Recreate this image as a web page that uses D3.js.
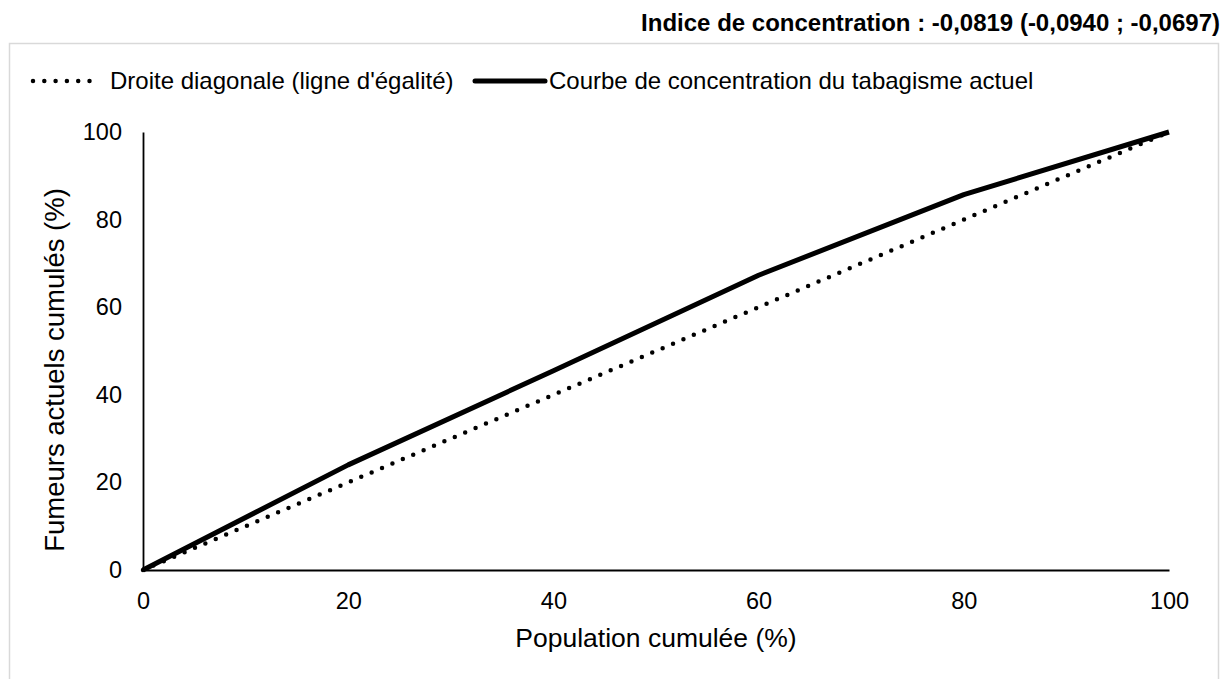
<!DOCTYPE html>
<html>
<head>
<meta charset="utf-8">
<script src="https://cdn.jsdelivr.net/npm/d3@7"></script>
<style>
  body { margin: 0; background: #fff; }
  text { font-family: "Liberation Sans", Arial, Helvetica, sans-serif; fill: #000; }
</style>
</head>
<body>
<div id="chart"></div>
<script>
// data
var popCum = [0, 20, 40, 60, 80, 100];
var fumeursCum = [0, 24, 45.5, 67.3, 85.7, 100];
var diagonale = [0, 20, 40, 60, 80, 100];
var xTicks = [0, 20, 40, 60, 80, 100];
var yTicks = [0, 20, 40, 60, 80, 100];
var titre = "Indice de concentration : -0,0819 (-0,0940 ; -0,0697)";
var legendLabels = ["Droite diagonale (ligne d'égalité)", "Courbe de concentration du tabagisme actuel"];

var w = 1229, h = 679;

var svg = d3.select("#chart").append("svg")
  .attr("width", w)
  .attr("height", h);

// frame
svg.append("rect")
  .attr("x", 9.5).attr("y", 43.5)
  .attr("width", 1209).attr("height", 660)
  .style("fill", "none")
  .style("stroke", "#d9d9d9")
  .style("stroke-width", 1.5);

svg.append("text")
  .attr("x", 1220).attr("y", 31)
  .attr("text-anchor", "end")
  .style("font-size", "24px")
  .style("font-weight", "bold")
  .text(titre);

var xscale = d3.scaleLinear().domain([0, 100]).range([143, 1169]);
var yscale = d3.scaleLinear().domain([0, 100]).range([570, 132]);

var xaxis = d3.axisBottom(xscale).tickValues(xTicks).tickSize(0).tickPadding(22).tickFormat(d3.format("d"));
var yaxis = d3.axisLeft(yscale).tickValues(yTicks).tickSize(0).tickPadding(21).tickFormat(d3.format("d"));

var gx = svg.append("g").attr("transform", "translate(0,570)").call(xaxis);
var gy = svg.append("g").attr("transform", "translate(143,0)").call(yaxis);

[gx, gy].forEach(function(g) {
  g.select(".domain").style("stroke", "#000").style("stroke-width", 1.8);
  g.selectAll("text").style("font-size", "23.5px").style("font-family", "'Liberation Sans', Arial, sans-serif").attr("fill", "#000");
});

svg.append("text")
  .attr("x", 656).attr("y", 647)
  .attr("text-anchor", "middle")
  .style("font-size", "26.5px")
  .text("Population cumulée (%)");

svg.append("text")
  .attr("transform", "translate(64,370) rotate(-90)")
  .attr("text-anchor", "middle")
  .style("font-size", "27.5px")
  .text("Fumeurs actuels cumulés (%)");

var line = d3.line()
  .x(function(d) { return xscale(d[0]); })
  .y(function(d) { return yscale(d[1]); });

svg.append("path")
  .datum(popCum.map(function(p, i) { return [p, diagonale[i]]; }))
  .attr("d", line)
  .style("fill", "none")
  .style("stroke", "#000")
  .style("stroke-width", 4.5)
  .style("stroke-linecap", "round")
  .style("stroke-dasharray", "0 11.3");

svg.append("path")
  .datum(popCum.map(function(p, i) { return [p, fumeursCum[i]]; }))
  .attr("d", line)
  .style("fill", "none")
  .style("stroke", "#000")
  .style("stroke-width", 5)
  .style("stroke-linejoin", "round");

// legend
var lg = svg.append("g");
lg.append("line")
  .attr("x1", 33).attr("x2", 97).attr("y1", 81).attr("y2", 81)
  .style("stroke", "#000").style("stroke-width", 4.5)
  .style("stroke-linecap", "round").style("stroke-dasharray", "0 11.3");
lg.append("text").attr("x", 110).attr("y", 89).style("font-size", "24px").text(legendLabels[0]);
lg.append("line")
  .attr("x1", 475).attr("x2", 545).attr("y1", 81).attr("y2", 81)
  .style("stroke", "#000").style("stroke-width", 5)
  .style("stroke-linecap", "round");
lg.append("text").attr("x", 549).attr("y", 89).style("font-size", "24px").text(legendLabels[1]);
</script>
</body>
</html>
